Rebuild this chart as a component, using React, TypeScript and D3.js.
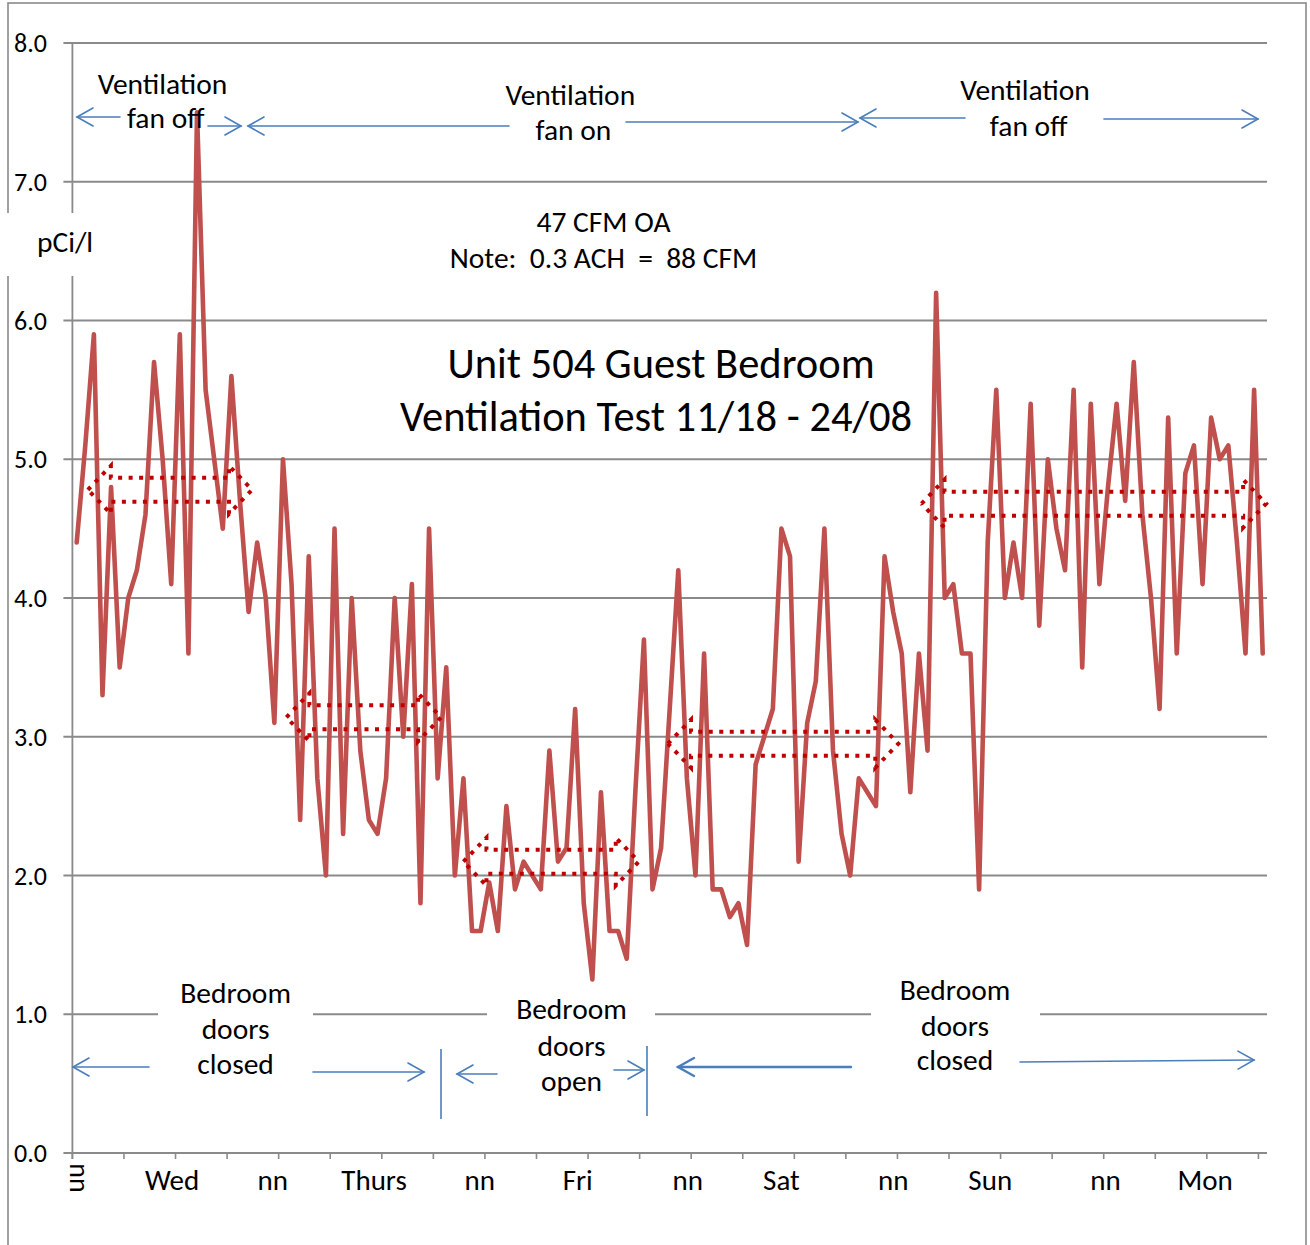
import React from 'react';
import * as d3 from 'd3';

// Hourly radon readings (pCi/l)
const radon: number[] = [
  4.4, 5.1, 5.9, 3.3, 4.8, 3.5, 4.0, 4.2, 4.6, 5.7, 5.0, 4.1,
  5.9, 3.6, 7.5, 5.5, 5.0, 4.5, 5.6, 4.7, 3.9, 4.4, 4.0, 3.1,
  5.0, 4.1, 2.4, 4.3, 2.7, 2.0, 4.5, 2.3, 4.0, 2.9, 2.4, 2.3,
  2.7, 4.0, 3.0, 4.1, 1.8, 4.5, 2.7, 3.5, 2.0, 2.7, 1.6, 1.6,
  1.95, 1.6, 2.5, 1.9, 2.1, 2.0, 1.9, 2.9, 2.1, 2.2, 3.2, 1.8,
  1.25, 2.6, 1.6, 1.6, 1.4, 2.6, 3.7, 1.9, 2.2, 3.2, 4.2, 2.7,
  2.0, 3.6, 1.9, 1.9, 1.7, 1.8, 1.5, 2.8, 3.0, 3.2, 4.5, 4.3,
  2.1, 3.1, 3.4, 4.5, 2.9, 2.3, 2.0, 2.7, 2.6, 2.5, 4.3, 3.9,
  3.6, 2.6, 3.6, 2.9, 6.2, 4.0, 4.1, 3.6, 3.6, 1.9, 4.4, 5.5,
  4.0, 4.4, 4.0, 5.4, 3.8, 5.0, 4.5, 4.2, 5.5, 3.5, 5.4, 4.1,
  4.8, 5.4, 4.7, 5.7, 4.6, 4.0, 3.2, 5.3, 3.6, 4.9, 5.1, 4.1,
  5.3, 5.0, 5.1, 4.4, 3.6, 5.5, 3.6,
];

const yTicks: number[] = [0, 1, 2, 3, 4, 5, 6, 7, 8];
const xLabels: string[] = ['nn', 'Wed', 'nn', 'Thurs', 'nn', 'Fri', 'nn', 'Sat', 'nn', 'Sun', 'nn', 'Mon'];
// label centres, in category (hour) units
const xLabelAt: number[] = [0.4, 11.6, 23.3, 35.1, 47.4, 58.8, 71.6, 82.5, 95.5, 106.8, 120.2, 131.8];
const tickEvery = 6;

// dotted double-arrow "average level" markers: [start, end] in hours, level in pCi/l
const markStart: number[] = [1.8, 24.9, 45.5, 69.3, 98.8];
const markEnd: number[] = [20.9, 42.9, 65.9, 96.1, 138.9];
const markLevel: number[] = [4.78, 3.14, 2.10, 2.95, 4.68];

const FONT = 'Carlito, Lato, sans-serif';
const GRID = '#8a8a8a';
const BLUE = '#4a7ebb';
const RED = '#c0504d';
const DARKRED = '#c00000';
const FS = 29.5;

function Arrow({ x1, y1, x2, y2, w = 1.6 }: { x1: number; y1: number; x2: number; y2: number; w?: number }) {
  const a = Math.atan2(y2 - y1, x2 - x1);
  const L = 16, hw = 9;
  const bx = x2 - L * Math.cos(a), by = y2 - L * Math.sin(a);
  const px = -Math.sin(a) * hw, py = Math.cos(a) * hw;
  return (
    <g stroke={BLUE} strokeWidth={w} fill="none" strokeLinecap="round">
      <line x1={x1} y1={y1} x2={x2} y2={y2} />
      <polyline points={`${bx + px},${by + py} ${x2},${y2} ${bx - px},${by - py}`} />
    </g>
  );
}

export default function App() {
  const X0 = 72.4, X1 = 1267, Y0 = 1153, Y1 = 43;
  const n = radon.length;
  const xb = d3.scaleBand<number>().domain(d3.range(n)).range([X0, X1]).padding(0);
  const xc = (i: number) => (xb(i) as number) + xb.bandwidth() / 2;
  const xh = d3.scaleLinear().domain([0, n]).range([X0, X1]);
  const y = d3.scaleLinear().domain([0, 8]).range([Y0, Y1]);

  const linePath = d3.line<number>().x((_, i) => xc(i)).y((d) => y(d))(radon) || '';

  const tickIdx = d3.range(0, n, tickEvery);

  const markPaths = markStart.map((s, k) => {
    const xl = xh(s), xr = xh(markEnd[k]), cy = y(markLevel[k]);
    const head = 23, sh = 12, hh = 24;
    return d3.line()([
      [xl, cy], [xl + head, cy - hh], [xl + head, cy - sh], [xr - head, cy - sh], [xr - head, cy - hh],
      [xr, cy], [xr - head, cy + hh], [xr - head, cy + sh], [xl + head, cy + sh], [xl + head, cy + hh], [xl, cy],
    ] as [number, number][]) || '';
  });

  const t = (x: number, yy: number, s: string, size = FS, anchor = 'middle') => (
    <text x={x} y={yy} fontSize={size} textAnchor={anchor} style={{ whiteSpace: 'pre' }}>{s}</text>
  );

  return (
    <svg width={1310} height={1245} style={{ position: 'absolute', left: 0, top: 0, background: '#fff' }}
      fontFamily={FONT} fill="#000">
      <rect x={0} y={0} width={1310} height={1245} fill="#fff" />
      <rect x={8} y={3} width={1298} height={1300} fill="none" stroke={GRID} strokeWidth={1.6} />

      {/* gridlines + y ticks */}
      {yTicks.map((v) => (
        <line key={v} x1={X0 - 9} x2={X1} y1={y(v)} y2={y(v)} stroke={GRID} strokeWidth={1.8} />
      ))}
      <line x1={X0} x2={X0} y1={Y1} y2={Y0 + 6} stroke={GRID} strokeWidth={1.8} />
      {tickIdx.map((i) => (
        <line key={i} x1={xb(i)} x2={xb(i)} y1={Y0} y2={Y0 + 6} stroke={GRID} strokeWidth={1.6} />
      ))}
      {yTicks.map((v) => (
        <text key={v} x={47} y={y(v) + 9} fontSize={26} textAnchor="end">{v.toFixed(1)}</text>
      ))}

      {/* white text-box backgrounds */}
      <rect x={4} y={213} width={96} height={63} fill="#fff" />
      <rect x={158} y={1004} width={155} height={20} fill="#fff" />
      <rect x={487} y={1004} width={168} height={20} fill="#fff" />
      <rect x={871} y={1004} width={169} height={20} fill="#fff" />

      {/* x labels */}
      {xLabels.map((s, k) =>
        k === 0 ? (
          <text key={k} x={0} y={0} fontSize={28} textAnchor="middle"
            transform={`translate(${xh(xLabelAt[k]) - 6},1178) rotate(90)`}>{s}</text>
        ) : (
          <text key={k} x={xh(xLabelAt[k])} y={1190} fontSize={29} textAnchor="middle">{s}</text>
        )
      )}

      {/* data */}
      <path d={linePath} fill="none" stroke={RED} strokeWidth={4.6} strokeLinejoin="round" strokeLinecap="round" />

      {markPaths.map((p, k) => (
        <path key={k} d={p} fill="none" stroke={DARKRED} strokeWidth={4} strokeDasharray="4 6.5" />
      ))}

      {/* top annotations */}
      {t(162.5, 94, 'Ventilation')}
      {t(165.7, 128, 'fan off')}
      {t(570.3, 105, 'Ventilation')}
      {t(573.4, 140, 'fan on')}
      {t(1025, 100, 'Ventilation')}
      {t(1028.6, 136, 'fan off')}
      {t(603.5, 232, '47 CFM OA')}
      {t(603.5, 268, 'Note:  0.3 ACH  =  88 CFM')}
      {t(65, 252, 'pCi/l')}
      {t(661, 378, 'Unit 504 Guest Bedroom', 42.5)}
      {t(656, 431, 'Ventilation Test 11/18 - 24/08', 42.5)}

      <Arrow x1={120} y1={117} x2={77} y2={117} />
      <Arrow x1={208} y1={126} x2={241} y2={126} />
      <Arrow x1={509} y1={126} x2={248} y2={126} />
      <Arrow x1={626} y1={122} x2={858} y2={122} />
      <Arrow x1={965} y1={118} x2={860} y2={118} />
      <Arrow x1={1104} y1={119} x2={1258} y2={119} />

      {/* bottom annotations */}
      {t(235.6, 1003, 'Bedroom')}
      {t(235.6, 1039, 'doors')}
      {t(235.6, 1074, 'closed')}
      {t(571.5, 1019, 'Bedroom')}
      {t(571.5, 1056, 'doors')}
      {t(571.5, 1091, 'open')}
      {t(955, 1000, 'Bedroom')}
      {t(955, 1036, 'doors')}
      {t(955, 1070, 'closed')}

      <Arrow x1={149} y1={1067} x2={73} y2={1067} />
      <Arrow x1={313} y1={1072} x2={424} y2={1072} />
      <Arrow x1={497} y1={1074} x2={457} y2={1074} />
      <Arrow x1={614} y1={1070} x2={644} y2={1070} />
      <Arrow x1={851} y1={1067} x2={678} y2={1067} w={2.4} />
      <Arrow x1={1020} y1={1062} x2={1254} y2={1060} />
      <line x1={441} x2={441} y1={1049} y2={1119} stroke={BLUE} strokeWidth={1.6} />
      <line x1={647} x2={647} y1={1046} y2={1116} stroke={BLUE} strokeWidth={1.6} />
    </svg>
  );
}
